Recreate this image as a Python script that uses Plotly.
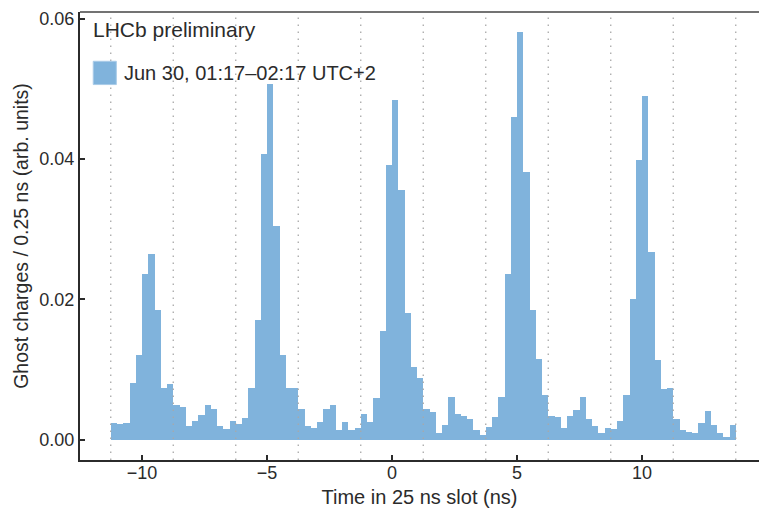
import numpy as np
import plotly.graph_objects as go

# Histogram binning: 0.25 ns bins spanning five 25 ns slots folded into one window
bin_start = -11.25
bin_width = 0.25

# Ghost charge fraction per bin (arb. units)
ghost_charges = [
    0.0024, 0.0022, 0.0024, 0.0081, 0.0120, 0.0236, 0.0265, 0.0185, 0.0074, 0.0079,
    0.0049, 0.0047, 0.0019, 0.0026, 0.0035, 0.0049, 0.0044, 0.0019, 0.0015, 0.0026,
    0.0022, 0.0030, 0.0074, 0.0171, 0.0407, 0.0507, 0.0304, 0.0121, 0.0073, 0.0074,
    0.0043, 0.0019, 0.0016, 0.0025, 0.0044, 0.0049, 0.0014, 0.0025, 0.0014, 0.0016,
    0.0036, 0.0025, 0.0059, 0.0155, 0.0392, 0.0484, 0.0355, 0.0180, 0.0103, 0.0087,
    0.0044, 0.0039, 0.0009, 0.0021, 0.0061, 0.0036, 0.0034, 0.0029, 0.0014, 0.0006,
    0.0018, 0.0032, 0.0061, 0.0236, 0.0460, 0.0581, 0.0381, 0.0185, 0.0115, 0.0063,
    0.0034, 0.0032, 0.0017, 0.0034, 0.0042, 0.0061, 0.0029, 0.0019, 0.0010, 0.0017,
    0.0015, 0.0026, 0.0063, 0.0201, 0.0398, 0.0490, 0.0268, 0.0113, 0.0072, 0.0073,
    0.0029, 0.0014, 0.0011, 0.0009, 0.0023, 0.0041, 0.0021, 0.0009, 0.0004, 0.0020,
]

# Slot boundaries (2.5 ns sub-slot markers)
slot_edges = [-11.25, -8.75, -6.25, -3.75, -1.25, 1.25, 3.75, 6.25, 8.75, 11.25, 13.75]

x_tick_vals = [-10, -5, 0, 5, 10]
x_tick_text = ["\u221210", "\u22125", "0", "5", "10"]
y_tick_vals = [0.00, 0.02, 0.04, 0.06]
y_tick_text = ["0.00", "0.02", "0.04", "0.06"]

legend_label = "Jun 30, 01:17\u201302:17 UTC+2"
header_label = "LHCb preliminary"

bar_color = "#80b3dc"
ink = "#2b2b2b"
font_family = "Liberation Sans, Arial, sans-serif"

centers = bin_start + bin_width * (np.arange(len(ghost_charges)) + 0.5)

fig = go.Figure()
fig.add_trace(go.Bar(
    x=centers,
    y=ghost_charges,
    width=bin_width,
    marker=dict(color=bar_color, line=dict(width=0)),
    showlegend=False,
    hoverinfo="x+y",
))

# Dotted slot boundaries drawn above the bars
for xe in slot_edges:
    fig.add_shape(
        type="line", xref="x", yref="paper",
        x0=xe, x1=xe, y0=0, y1=1,
        line=dict(color="#a8a8a8", width=1.3, dash="1.5px,5.5px"),
        layer="above",
    )

# Top frame line
fig.add_shape(
    type="line", xref="paper", yref="paper",
    x0=0, x1=1, y0=1, y1=1,
    line=dict(color="#444444", width=1.6),
    layer="above",
)

# Legend block
fig.add_annotation(
    text=header_label, xref="paper", yref="paper",
    x=0.016, y=0.961, xanchor="left", yanchor="middle",
    showarrow=False, font=dict(size=21, color=ink, family=font_family),
)
fig.add_shape(
    type="rect", xref="paper", yref="paper",
    x0=0.0195, x1=0.0535, y0=0.838, y1=0.890,
    fillcolor=bar_color, line=dict(color="#a9cbe8", width=1),
)
fig.add_annotation(
    text=legend_label, xref="paper", yref="paper",
    x=0.062, y=0.864, xanchor="left", yanchor="middle",
    showarrow=False, font=dict(size=20, color=ink, family=font_family),
)

fig.update_layout(
    width=759,
    height=508,
    margin=dict(l=80, r=0, t=12, b=48),
    paper_bgcolor="white",
    plot_bgcolor="white",
    bargap=0,
    font=dict(family=font_family, color=ink, size=18),
    showlegend=False,
)

fig.update_xaxes(
    range=[-12.48, 14.68],
    tickvals=x_tick_vals,
    ticktext=x_tick_text,
    ticks="inside", ticklen=5, tickwidth=1.5, tickcolor=ink,
    showgrid=False, zeroline=False,
    showline=True, linecolor=ink, linewidth=2,
    tickfont=dict(size=18),
    ticklabelstandoff=-5,
    title=dict(text="Time in 25 ns slot (ns)", font=dict(size=20), standoff=8),
)
fig.update_yaxes(
    range=[-0.00292, 0.06094],
    tickvals=y_tick_vals,
    ticktext=y_tick_text,
    ticks="inside", ticklen=5, tickwidth=1.5, tickcolor=ink,
    showgrid=False, zeroline=False,
    showline=True, linecolor=ink, linewidth=2,
    tickfont=dict(size=18),
    title=dict(text="Ghost charges / 0.25 ns (arb. units)", font=dict(size=19.5), standoff=6),
)

fig.write_html("out.html")
